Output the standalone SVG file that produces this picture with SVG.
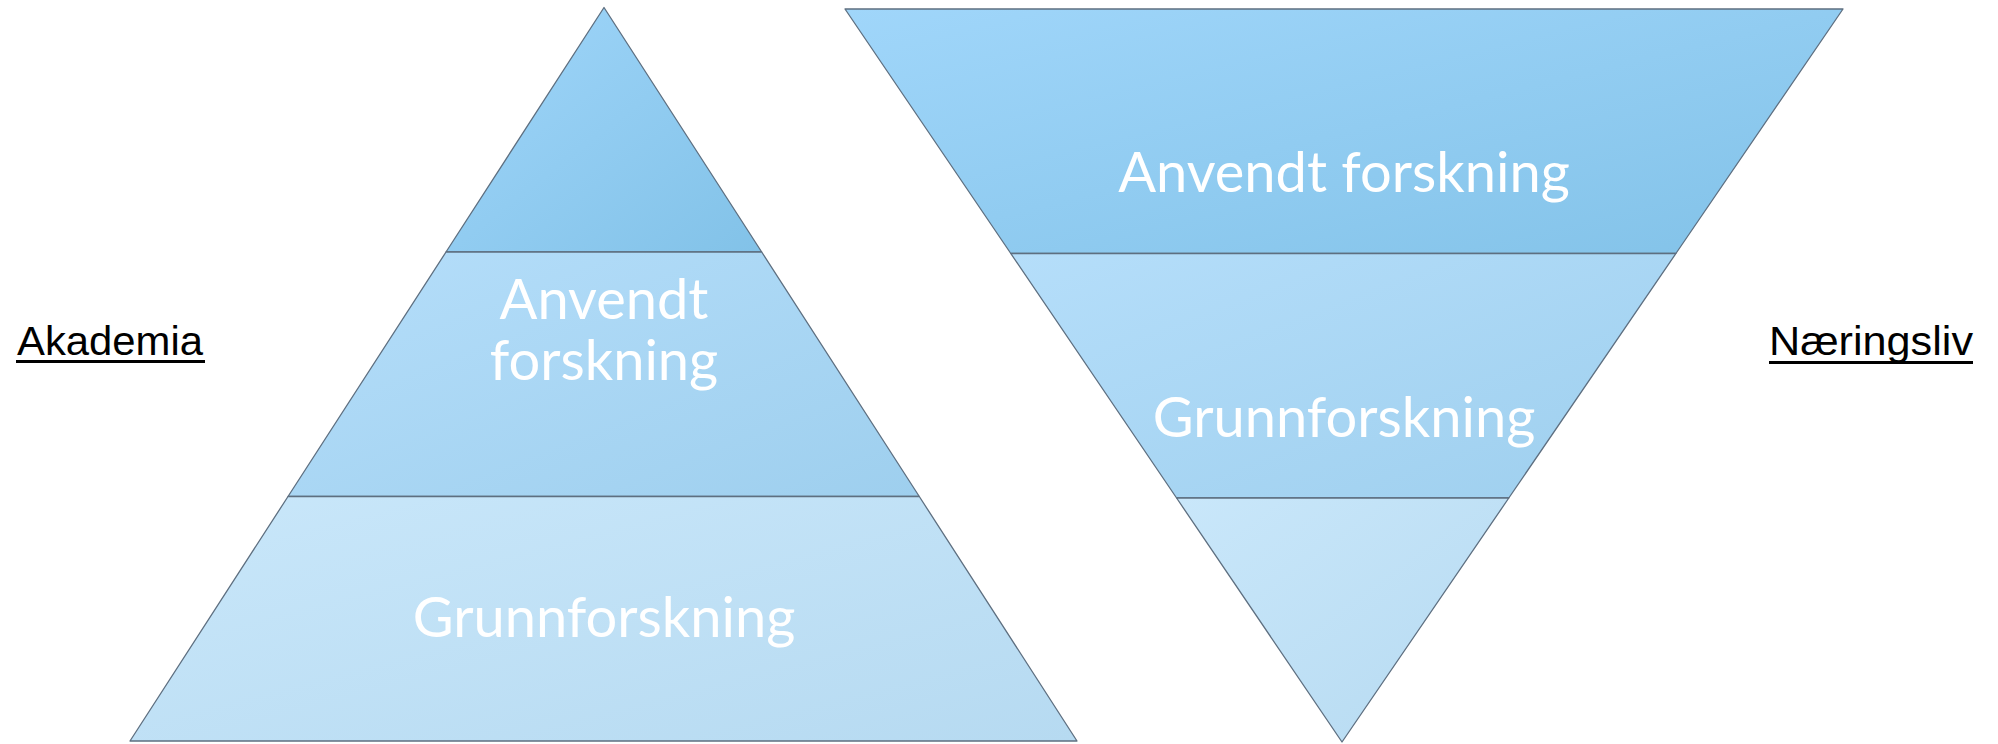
<svg xmlns="http://www.w3.org/2000/svg" width="1998" height="744" viewBox="0 0 1998 744">
  <defs>
    <linearGradient id="gTop" x1="0" y1="0" x2="1" y2="1">
      <stop offset="0" stop-color="#A0D6FA"/>
      <stop offset="1" stop-color="#82C2E8"/>
    </linearGradient>
    <linearGradient id="gMid" x1="0" y1="0" x2="1" y2="1">
      <stop offset="0" stop-color="#B5DEFA"/>
      <stop offset="1" stop-color="#9ECFEE"/>
    </linearGradient>
    <linearGradient id="gBot" x1="0" y1="0" x2="1" y2="1">
      <stop offset="0" stop-color="#C9E7FA"/>
      <stop offset="1" stop-color="#B6DAF1"/>
    </linearGradient>
    <style>
      .band { stroke: #5E6F80; stroke-width: 1.3; stroke-linejoin: round; }
      .t { fill: #FFFFFF; font-family: "Lato", "Open Sans", "Liberation Sans", sans-serif; font-size: 56px; text-anchor: middle; }
      .lbl { fill: #000000; font-family: "Liberation Sans", "Open Sans", sans-serif; font-size: 40px; }
      .ul { fill: #000000; }
    </style>
  </defs>

  <g id="akademia">
    <text class="lbl" x="17" y="355" textLength="186" lengthAdjust="spacingAndGlyphs">Akademia</text>
    <rect class="ul" x="16" y="360" width="189" height="3"/>
  </g>

  <g id="naeringsliv">
    <text class="lbl" x="1769" y="355" textLength="204" lengthAdjust="spacingAndGlyphs">Næringsliv</text>
    <rect class="ul" x="1769" y="361" width="204" height="3"/>
  </g>

  <g id="pyramid">
    <g id="pyr-top">
      <polygon class="band" points="604,7.5 761.7,252 446,252" fill="url(#gTop)"/>
    </g>
    <g id="pyr-mid">
      <polygon class="band" points="446,252 761.7,252 919.3,496.5 288,496.5" fill="url(#gMid)"/>
      <text class="t" x="604" y="319">Anvendt</text>
      <text class="t" x="604" y="380">forskning</text>
    </g>
    <g id="pyr-bot">
      <polygon class="band" points="288,496.5 919.3,496.5 1077,741 130,741" fill="url(#gBot)"/>
      <text class="t" x="604" y="637">Grunnforskning</text>
    </g>
  </g>

  <g id="inverted">
    <g id="inv-top">
      <polygon class="band" points="845,9 1843,9 1675.9,253.5 1010.8,253.5" fill="url(#gTop)"/>
      <text class="t" x="1344" y="192">Anvendt forskning</text>
    </g>
    <g id="inv-mid">
      <polygon class="band" points="1010.8,253.5 1675.9,253.5 1508.8,498 1176.6,498" fill="url(#gMid)"/>
      <text class="t" x="1344" y="437">Grunnforskning</text>
    </g>
    <g id="inv-bot">
      <polygon class="band" points="1176.6,498 1508.8,498 1342,742" fill="url(#gBot)"/>
    </g>
  </g>

  <g id="connectors"/>
</svg>
